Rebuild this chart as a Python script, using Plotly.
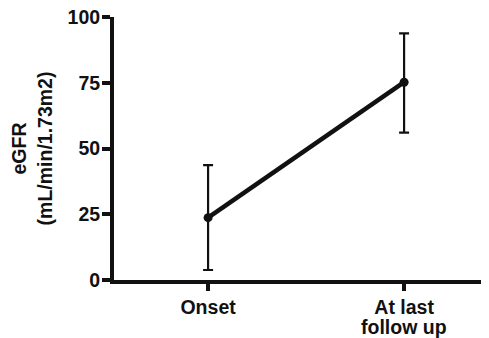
import plotly.graph_objects as go

categories = ["Onset", "At last follow up"]
label_lines = [["Onset"], ["At last", "follow up"]]
means = [23.7, 75.2]
upper = [43.7, 93.8]
lower = [3.8, 56.0]
y_ticks = [0, 25, 50, 75, 100]

err_plus = [u - m for u, m in zip(upper, means)]
err_minus = [m - l for m, l in zip(means, lower)]

font_family = "Liberation Sans, Arial, Helvetica, sans-serif"
fsize = 19.5
tfont = dict(size=fsize, family=font_family, weight="bold", color="#111111")

fig = go.Figure()
fig.add_trace(go.Scatter(
    x=categories, y=means,
    mode="lines+markers",
    line=dict(color="#111111", width=4.5),
    marker=dict(color="#111111", size=9),
    error_y=dict(type="data", symmetric=False, array=err_plus, arrayminus=err_minus,
                 color="#111111", thickness=2.2, width=5),
    showlegend=False,
    cliponaxis=False,
))

# extra lines of multi-line category labels (tight line spacing as in the reference)
for cat, lines in zip(categories, label_lines):
    for k, txt in enumerate(lines[1:], start=1):
        fig.add_annotation(x=cat, xref="x", y=0, yref="paper",
                           text=txt, showarrow=False, yanchor="top",
                           yshift=-34 - 17 * (k - 1), font=tfont)

fig.update_layout(
    width=489, height=338,
    margin=dict(l=106, r=0, t=9, b=66),
    paper_bgcolor="white", plot_bgcolor="white",
    font=dict(family=font_family, color="#111111"),
)
fig.update_xaxes(
    type="category",
    categoryarray=categories,
    tickvals=categories,
    ticktext=[ln[0] for ln in label_lines],
    range=[-0.48, 1.474],
    automargin=False,
    showline=True, linecolor="#111111", linewidth=4,
    ticks="outside", ticklen=7, tickwidth=4, tickcolor="#111111",
    tickfont=tfont,
    showgrid=False, zeroline=False,
)
fig.update_yaxes(
    range=[0, 100],
    automargin=False,
    tickvals=y_ticks,
    ticklabeloverflow="allow",
    ticklabelstandoff=-2,
    showline=True, linecolor="#111111", linewidth=4,
    ticks="outside", ticklen=8, tickwidth=4, tickcolor="#111111",
    tickfont=tfont,
    showgrid=False, zeroline=False,
    title=dict(text="eGFR<br>(mL/min/1.73m2)", standoff=11, font=tfont),
)

fig.write_html("out.html")
